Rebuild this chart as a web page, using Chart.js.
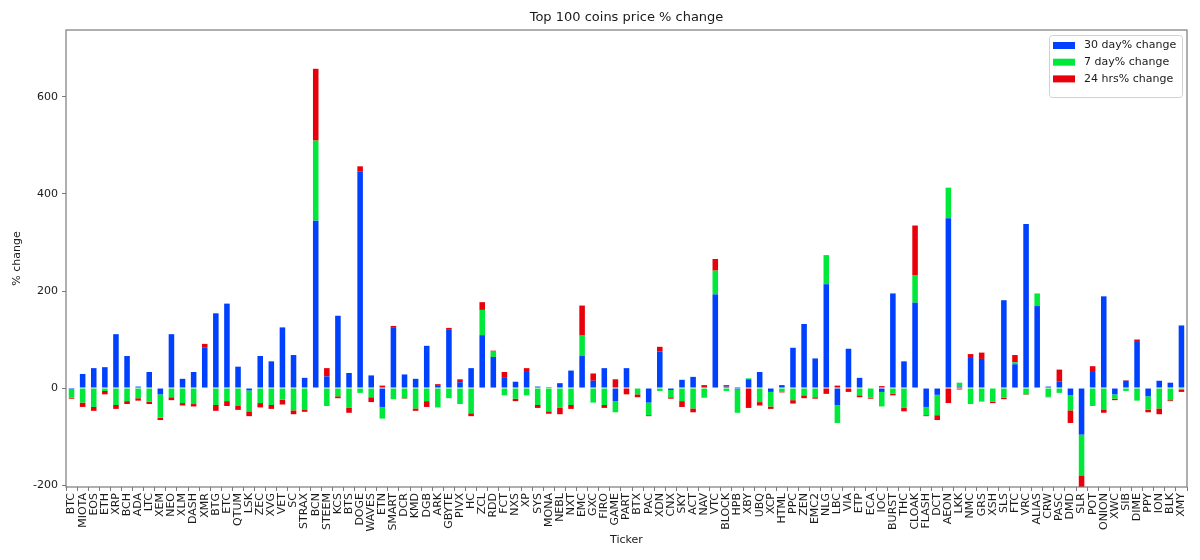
<!DOCTYPE html>
<html>
<head>
<meta charset="utf-8">
<title>Top 100 coins price % change</title>
<script src="https://cdn.jsdelivr.net/npm/chart.js@4/dist/chart.umd.min.js"></script>
<style>
  html, body { margin: 0; padding: 0; background: #fff; }
  #wrap { width: 1200px; height: 560px; position: relative; }
</style>
</head>
<body>
<div id="wrap"><canvas id="coins-chart"></canvas></div>
<script>
/* ── Data ── */
const tickers = [
  'BTC','MIOTA','EOS','ETH','XRP','BCH','ADA','LTC','XEM','NEO','XLM','DASH','XMR','BTG','ETC','QTUM','LSK',
  'ZEC','XVG','VET','SC','STRAX','BCN','STEEM','KCS','BTS','DOGE','WAVES','ETN','SMART','DCR','KMD','DGB',
  'ARK','GBYTE','PIVX','HC','ZCL','RDD','FCT','NXS','XP','SYS','MONA','NEBL','NXT','EMC','GXC','FIRO','GAME',
  'PART','BTX','PAC','XDN','CNX','SKY','ACT','NAV','VTC','BLOCK','HPB','XBY','UBQ','XCP','HTML','PPC','ZEN',
  'EMC2','NLG','LBC','VIA','ETP','ECA','IOC','BURST','THC','CLOAK','FLASH','DCT','AEON','LKK','NMC','GRS',
  'XSH','SLS','FTC','VRC','ALIAS','CRW','PASC','DMD','SLR','POT','ONION','XWC','SIB','DIME','PPY','ION','BLK','XMY'
];

const change30d = [
  -2, 29, 41, 43, 111, 66, 3, 33, -13, 111, 19, 33, 83, 154, 174, 44, -5,
  66, 55, 125, 68, 21, 345, 24, 149, 31, 447, 26, -39, 124, 28, 19, 87,
  6, 120, 12, 41, 109, 64, 21, 13, 35, 3, 2, 10, 36, 66, 15, 41, -27,
  41, 0, -30, 75, -4, 17, 23, 0, 193, 3, -3, 18, 33, -8, 6, 83, 132,
  61, 214, -35, 81, 21, -1, -8, 195, 55, 176, -39, -14, 350, 3, 62, 60,
  1, 181, 49, 338, 169, 3, 13, -15, -96, 35, 189, -13, 15, 95, -17, 15, 11, 129
];

const change7d = [
  -18, -30, -39, -6, -35, -27, -21, -28, -48, -19, -31, -33, 0, -35, -27, -37, -43,
  -31, -35, -24, -46, -44, 165, -37, -17, -41, -10, -19, -24, -23, -21, -42, -27,
  -40, -21, -33, -52, 52, 11, -15, -22, -15, -35, -48, -41, -35, 42, -30, -35, -23,
  -1, -13, -26, -6, -15, -27, -42, -20, 49, -6, -48, 2, -29, -30, -8, -25, -15,
  -19, 60, -37, 0, -15, -19, -30, -12, -41, 57, -17, -42, 63, 8, -33, -28,
  -28, -20, 4, -13, 26, -18, -10, -31, -84, -37, -44, -9, -6, -26, -28, -42, -25, -4
];

const change24h = [
  -2, -9, -8, -7, -8, -6, -5, -5, -5, -6, -5, -5, 8, -12, -10, -8, -10,
  -9, -8, -10, -8, -5, 148, 17, -4, -10, 10, -10, 5, 4, -1, -5, -12,
  2, 4, 6, -6, 16, 2, 12, -5, 6, -6, -5, -13, -8, 62, 15, -6, 18,
  -12, -6, -2, 10, -3, -12, -8, 6, 24, 3, 2, -41, -7, -5, -1, -7, -6,
  -3, -12, 5, -8, -4, -2, 4, -3, -7, 102, -2, -10, -31, -3, 8, 13,
  -3, -3, 15, -1, -1, -1, 25, -26, -30, 10, -7, -3, 1, 5, -5, -12, -2, -4
];

const yTicks = [-200, 0, 200, 400, 600];
const TITLE = 'Top 100 coins price % change';

/* ── Styling ── */
const FONT = "'DejaVu Sans', sans-serif";
const SPINE = '#7a7a7a';
const TEXT = '#1a1a1a';
const COLORS = { d30: '#0040ff', d7: '#00e83a', h24: '#e8000b' };

/* matplotlib-like frame on all four sides, title centred over the axes */
const framePlugin = {
  id: 'frame',
  afterDraw(chart) {
    const { ctx, chartArea: a } = chart;
    ctx.save();
    ctx.strokeStyle = SPINE;
    ctx.lineWidth = 1.2;
    ctx.strokeRect(a.left, a.top, a.right - a.left, a.bottom - a.top);
    ctx.fillStyle = TEXT;
    ctx.font = `13px ${FONT}`;
    ctx.textAlign = 'center';
    ctx.textBaseline = 'middle';
    ctx.fillText(TITLE, (a.left + a.right) / 2, 18);
    ctx.restore();
  }
};

/* vertical legend box in the upper right corner */
const boxLegend = {
  id: 'boxLegend',
  afterDraw(chart) {
    const { ctx, chartArea: a } = chart;
    const x = a.right - 138, y = a.top + 5, w = 133, h = 62;
    ctx.save();
    ctx.fillStyle = 'rgba(255,255,255,0.85)';
    ctx.strokeStyle = '#d0d0d0';
    ctx.lineWidth = 1;
    ctx.beginPath();
    ctx.roundRect(x + 0.5, y + 0.5, w, h, 3);
    ctx.fill();
    ctx.stroke();
    ctx.font = `11px ${FONT}`;
    ctx.textBaseline = 'middle';
    chart.data.datasets.forEach((ds, i) => {
      const cy = y + 10.5 + i * 16.7;
      ctx.fillStyle = ds.backgroundColor;
      ctx.fillRect(x + 4, cy - 3.5, 22, 7);
      ctx.fillStyle = TEXT;
      ctx.fillText(ds.label, x + 35, cy);
    });
    ctx.restore();
  }
};

new Chart(document.getElementById('coins-chart'), {
  type: 'bar',
  data: {
    labels: tickers,
    datasets: [
      { label: '30 day% change', data: change30d, backgroundColor: COLORS.d30 },
      { label: '7 day% change', data: change7d, backgroundColor: COLORS.d7 },
      { label: '24 hrs% change', data: change24h, backgroundColor: COLORS.h24 }
    ]
  },
  options: {
    responsive: true,
    maintainAspectRatio: false,
    animation: false,
    layout: { padding: { left: 0, right: 13, top: 30, bottom: 0 } },
    datasets: { bar: { categoryPercentage: 1, barPercentage: 0.5, borderWidth: 0 } },
    plugins: {
      legend: { display: false },
      tooltip: { enabled: false },
      title: { display: false }
    },
    scales: {
      x: {
        stacked: true,
        border: { display: false },
        grid: { display: true, drawOnChartArea: false, drawTicks: true, tickLength: 4, tickColor: SPINE },
        ticks: {
          autoSkip: false, maxRotation: 90, minRotation: 90, padding: 2,
          color: TEXT, font: { family: FONT, size: 11 }
        },
        title: {
          display: true, text: 'Ticker', color: TEXT,
          font: { family: FONT, size: 11 }, padding: { top: 0, bottom: 13.4 }
        },
        afterFit: s => { s.height = 73; }
      },
      y: {
        stacked: true,
        min: -204,
        max: 738,
        border: { display: false },
        grid: { display: true, drawOnChartArea: false, drawTicks: true, tickLength: 4, tickColor: SPINE },
        afterBuildTicks: s => { s.ticks = yTicks.map(v => ({ value: v })); },
        ticks: { padding: 4, color: TEXT, font: { family: FONT, size: 11 } },
        title: {
          display: true, text: '% change', color: TEXT,
          font: { family: FONT, size: 11 }, padding: { top: 10.4, bottom: 0 }
        },
        afterFit: s => { s.width = 66; }
      }
    }
  },
  plugins: [framePlugin, boxLegend]
});
</script>
</body>
</html>
